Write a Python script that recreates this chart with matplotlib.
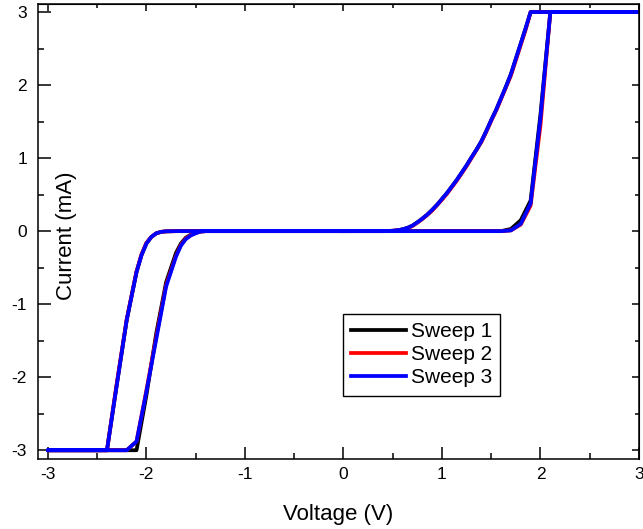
import matplotlib
matplotlib.use("Agg")
import matplotlib.pyplot as plt
from matplotlib.ticker import MultipleLocator

plt.rcParams['font.family'] = ['Liberation Sans', 'DejaVu Sans']

# Sweep path: 0 -> +3 -> 0 -> -3 -> 0
# Sweep 1
v_s1 = [0.0, 1.6, 1.7, 1.8, 1.9, 2.0, 2.1, 3.0,
        3.0, 1.9, 1.85, 1.8, 1.75, 1.7, 1.65, 1.6, 1.55, 1.5, 1.45, 1.4, 1.35, 1.3, 1.25, 1.2,
        1.15, 1.1, 1.05, 1.0, 0.95, 0.9, 0.85, 0.8, 0.75, 0.7, 0.65, 0.6, 0.55, 0.5, 0.45, 0.4, 0.0,
        0.0, -1.4, -1.45, -1.5, -1.55, -1.6, -1.65, -1.7, -1.8, -1.9, -2.0, -2.1, -3.0,
        -3.0, -2.4, -2.3, -2.2, -2.1, -2.05, -2.0, -1.95, -1.9, -1.85, -1.8, -1.7, 0.0]
i_s1 = [0.0, 0.0, 0.03, 0.15, 0.42, 1.6, 3.0, 3.0,
        3.0, 3.0, 2.78, 2.57, 2.36, 2.15, 1.98, 1.82, 1.66, 1.52, 1.37, 1.23, 1.115, 1.01, 0.90, 0.80,
        0.70, 0.61, 0.52, 0.44, 0.36, 0.29, 0.225, 0.17, 0.12, 0.075, 0.045, 0.025, 0.012, 0.005, 0.002, 0.0, 0.0,
        0.0, 0.0, -0.005, -0.02, -0.05, -0.09, -0.17, -0.30, -0.70, -1.40, -2.25, -3.0, -3.0,
        -3.0, -3.0, -2.1, -1.22, -0.56, -0.33, -0.17, -0.08, -0.03, -0.01, -0.003, 0.0, 0.0]

# Sweep 2
v_s2 = [0.0, 1.6, 1.7, 1.8, 1.9, 2.0, 2.1, 3.0,
        3.0, 1.9, 1.85, 1.8, 1.75, 1.7, 1.65, 1.6, 1.55, 1.5, 1.45, 1.4, 1.35, 1.3, 1.25, 1.2,
        1.15, 1.1, 1.05, 1.0, 0.95, 0.9, 0.85, 0.8, 0.75, 0.7, 0.65, 0.6, 0.55, 0.5, 0.45, 0.4, 0.0,
        0.0, -1.4, -1.45, -1.5, -1.55, -1.6, -1.65, -1.7, -1.8, -1.9, -2.0, -2.1, -2.2, -3.0,
        -3.0, -2.4, -2.3, -2.2, -2.1, -2.05, -2.0, -1.95, -1.9, -1.85, -1.8, -1.7, 0.0]
i_s2 = [0.0, 0.0, 0.01, 0.09, 0.35, 1.45, 3.0, 3.0,
        3.0, 3.0, 2.76, 2.55, 2.34, 2.13, 1.97, 1.81, 1.65, 1.51, 1.36, 1.22, 1.11, 1.0, 0.89, 0.79,
        0.69, 0.60, 0.51, 0.43, 0.355, 0.28, 0.22, 0.165, 0.115, 0.07, 0.04, 0.02, 0.01, 0.005, 0.002, 0.0, 0.0,
        0.0, 0.0, -0.005, -0.025, -0.055, -0.10, -0.19, -0.34, -0.74, -1.45, -2.18, -2.88, -3.0, -3.0,
        -3.0, -3.0, -2.08, -1.21, -0.55, -0.32, -0.16, -0.08, -0.03, -0.01, -0.003, 0.0, 0.0]

# Sweep 3
v_s3 = [0.0, 1.6, 1.7, 1.8, 1.9, 2.0, 2.1, 3.0,
        3.0, 1.9, 1.85, 1.8, 1.75, 1.7, 1.65, 1.6, 1.55, 1.5, 1.45, 1.4, 1.35, 1.3, 1.25, 1.2,
        1.15, 1.1, 1.05, 1.0, 0.95, 0.9, 0.85, 0.8, 0.75, 0.7, 0.65, 0.6, 0.55, 0.5, 0.45, 0.4, 0.0,
        0.0, -1.4, -1.45, -1.5, -1.55, -1.6, -1.65, -1.7, -1.8, -1.9, -2.0, -2.1, -2.2, -3.0,
        -3.0, -2.4, -2.3, -2.2, -2.1, -2.05, -2.0, -1.95, -1.9, -1.85, -1.8, -1.7, 0.0]
i_s3 = [0.0, 0.0, 0.01, 0.10, 0.38, 1.55, 3.0, 3.0,
        3.0, 3.0, 2.78, 2.57, 2.36, 2.15, 1.98, 1.82, 1.66, 1.52, 1.37, 1.23, 1.115, 1.01, 0.90, 0.80,
        0.70, 0.61, 0.52, 0.44, 0.36, 0.29, 0.225, 0.17, 0.12, 0.075, 0.045, 0.025, 0.012, 0.005, 0.002, 0.0, 0.0,
        0.0, 0.0, -0.005, -0.03, -0.06, -0.11, -0.20, -0.35, -0.76, -1.48, -2.2, -2.88, -3.0, -3.0,
        -3.0, -3.0, -2.1, -1.22, -0.56, -0.33, -0.17, -0.08, -0.03, -0.01, -0.003, 0.0, 0.0]

labels = ["Sweep 1", "Sweep 2", "Sweep 3"]
colors = ["#000000", "#FF0000", "#0000FF"]

x_ticks = [-3, -2, -1, 0, 1, 2, 3]
y_ticks = [-3, -2, -1, 0, 1, 2, 3]

fig = plt.figure(figsize=(6.43, 5.29), dpi=100)
ax = fig.add_axes([38/643, 1 - 459/529, (639 - 38)/643, (459 - 4)/529])

for v, i, lab, c in zip([v_s1, v_s2, v_s3], [i_s1, i_s2, i_s3], labels, colors):
    ax.plot(v, i, color=c, lw=2.7, label=lab, solid_joinstyle='round')

ax.set_xlim(-3.1, 3.0)
ax.set_ylim(-3.12, 3.11)
ax.set_xticks(x_ticks)
ax.set_yticks(y_ticks)
ax.set_xticklabels([str(t) for t in x_ticks])
ax.set_yticklabels([str(t) for t in y_ticks])
ax.xaxis.set_minor_locator(MultipleLocator(0.5))
ax.yaxis.set_minor_locator(MultipleLocator(0.5))
ax.tick_params(which='major', direction='in', length=9, width=1.1, labelsize=12.5, pad=6)
ax.tick_params(which='minor', direction='in', length=4.5, width=1.1)
ax.tick_params(axis='y', which='major', pad=8)
for s in ax.spines.values():
    s.set_linewidth(1.1)

# top / right shorter ticks
secx = ax.secondary_xaxis('top')
secx.set_xticks(x_ticks)
secx.xaxis.set_minor_locator(MultipleLocator(0.5))
secx.tick_params(which='major', direction='in', length=5, width=1.1, labeltop=False)
secx.tick_params(which='minor', direction='in', length=3, width=1.1)
secy = ax.secondary_yaxis('right')
secy.set_yticks(y_ticks)
secy.yaxis.set_minor_locator(MultipleLocator(0.5))
secy.tick_params(which='major', direction='in', length=5, width=1.1, labelright=False)
secy.tick_params(which='minor', direction='in', length=3, width=1.1)

ax.text(0.5, -0.121, "Voltage (V)", transform=ax.transAxes, ha='center', va='center', fontsize=16)
ax.text(0.048, 0.49, "Current (mA)", transform=ax.transAxes, ha='center', va='center',
        rotation=90, fontsize=16)

leg = ax.legend(loc='upper left', bbox_to_anchor=(0.5075, 0.3195), fontsize=15,
                frameon=True, fancybox=False, shadow=False, framealpha=1,
                edgecolor='black', handlelength=2.6, handletextpad=0.25,
                borderpad=0.4, labelspacing=0.2, borderaxespad=0)
leg.get_frame().set_linewidth(1.0)

fig.savefig("out.png", dpi=100)
